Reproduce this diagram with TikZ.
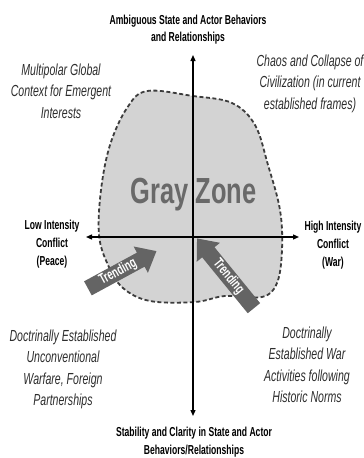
\documentclass[tikz,border=0pt]{standalone}
\usepackage{fontspec}
\setmainfont{Liberation Sans}[FakeStretch=0.66]
\newfontfamily\gzfont{Liberation Sans}[FakeStretch=0.7]
\usetikzlibrary{arrows.meta,shapes.arrows}
\definecolor{blobfill}{RGB}{211,211,211}
\definecolor{blobline}{RGB}{60,60,60}
\definecolor{gztext}{RGB}{105,105,105}
\definecolor{trendfill}{RGB}{100,100,100}
\definecolor{italtext}{RGB}{45,45,45}
\begin{document}
\begin{tikzpicture}[x=1pt,y=-1pt,
  boldlbl/.style={font=\bfseries\fontsize{13}{17.5}\selectfont, align=center, anchor=base, inner sep=0pt, text=black},
  itallbl/.style={font=\itshape\fontsize{16}{21.5}\selectfont, align=center, anchor=base, inner sep=0pt, text=italtext},
  axisline/.style={line width=1.3pt, draw=black, -{Triangle[length=6pt,width=5pt]}},
  trendarrow/.style={single arrow, fill=trendfill, text=white, font=\bfseries\fontsize{14.5}{14.5}\selectfont,
    single arrow head extend=7pt, single arrow tip angle=80, inner xsep=0pt, inner ysep=1pt},
  blob/.style={fill=blobfill, draw=blobline, line width=1.8pt, dash pattern=on 4pt off 2.5pt}
]
\useasboundingbox (0,0) rectangle (364,458);
\fill[white] (0,0) rectangle (364,458);

% gray zone blob
\path[blob] plot[smooth cycle, tension=0.6] coordinates {
 (147,91) (193,96) (232,103) (255,125) (268,165) (280,210) (282,250) (277,283)
 (262,297) (225,296) (195,302) (150,301) (123,288) (108,265) (99,235) (101,190)
 (110,145) (127,108)};

\node[font=\gzfont\bfseries\fontsize{36.3}{40}\selectfont, text=gztext, anchor=base, inner sep=0pt] (gz) at (193.5,203) {Gray Zone};

% axes
\coordinate (center) at (193,237);
\coordinate (ytop) at (193,55);
\coordinate (ybot) at (193,416);
\coordinate (xleft) at (86,237);
\coordinate (xright) at (299,237);
\draw[axisline] (center) -- (ytop);
\draw[axisline] (center) -- (ybot);
\draw[axisline] (center) -- (xleft);
\draw[axisline] (center) -- (xright);

% trending arrows
\node[trendarrow, minimum height=78pt, rotate=28.5] (trendL) at (118,272) {Trending};
\node[trendarrow, minimum height=90pt, rotate=-50.8, shape border rotate=180] (trendR) at (228.5,277) {Trending};

% axis labels (anchor base = baseline of the last line)
\node[boldlbl] (top) at (188,41.5) {Ambiguous State and Actor Behaviors\\and Relationships};
\node[boldlbl, font=\bfseries\fontsize{13}{18}\selectfont] (left) at (52,265) {Low Intensity\\Conflict\\(Peace)};
\node[boldlbl, font=\bfseries\fontsize{13}{18}\selectfont] (right) at (333,266) {High Intensity\\Conflict\\(War)};
\node[boldlbl] (bottom) at (194,454) {Stability and Clarity in State and Actor\\Behaviors/Relationships};

% quadrant labels
\node[itallbl] (tl) at (61,118) {Multipolar Global\\Context for Emergent\\Interests};
\node[itallbl] (tr) at (310,109) {Chaos and Collapse of\\Civilization (in current\\established frames)};
\node[itallbl] (bl) at (63,405.5) {Doctrinally Established\\Unconventional\\Warfare, Foreign\\Partnerships};
\node[itallbl] (br) at (307,402.5) {Doctrinally\\Established War\\Activities following\\Historic Norms};
\end{tikzpicture}
\end{document}
